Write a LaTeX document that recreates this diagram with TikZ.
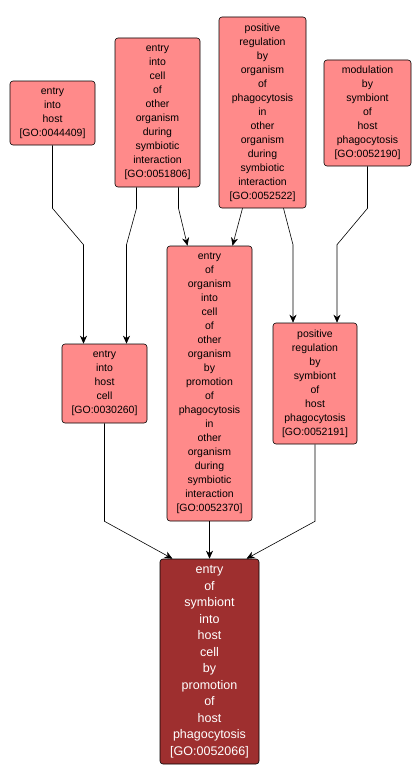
\documentclass[tikz,border=0pt]{standalone}
\usepackage{fontspec}
\setmainfont{Liberation Sans}
\usepackage{tikz}
\usetikzlibrary{arrows.meta}
\definecolor{goPink}{HTML}{FF8A8A}
\definecolor{goDark}{HTML}{9E2F2F}
\tikzset{
	goterm/.style = {align=center, inner sep=0pt, text centered, rounded corners=3pt,
		font=\fontsize{10.5}{14}\selectfont},
	go_n/.style = {goterm, rectangle, black, draw=black, fill=goPink, line width=0.6pt},% ancestor term
	go_q/.style = {goterm, rectangle, white, draw=black, fill=goDark, line width=0.6pt,
		font=\fontsize{12.5}{16.5}\selectfont},% queried term
	go_e/.style = {line width=0.6pt, black}% is_a edge
}

\begin{document}
\begin{tikzpicture}[->,>={Stealth[length=8pt,width=7pt,inset=2.5pt]}, x=1pt, y=-1pt]
	\useasboundingbox (0,0) rectangle (420,784);
	% top row
	\node [go_n, minimum width=85pt, minimum height=64pt] (a) at (52.5,113)
		{entry\\into\\host\\{}[GO:0044409]};
	\node [go_n, minimum width=85pt, minimum height=149pt] (b) at (157.5,112.5)
		{entry\\into\\cell\\of\\other\\organism\\during\\symbiotic\\interaction\\{}[GO:0051806]};
	\node [go_n, minimum width=87pt, minimum height=191pt] (c) at (262.5,112.5)
		{positive\\regulation\\by\\organism\\of\\phagocytosis\\in\\other\\organism\\during\\symbiotic\\interaction\\{}[GO:0052522]};
	\node [go_n, minimum width=87pt, minimum height=106pt] (d) at (367.5,113)
		{modulation\\by\\symbiont\\of\\host\\phagocytosis\\{}[GO:0052190]};
	% middle row
	\node [go_n, minimum width=85pt, minimum height=79pt] (e) at (104.5,383.5)
		{entry\\into\\host\\cell\\{}[GO:0030260]};
	\node [go_n, minimum width=85pt, minimum height=275pt] (f) at (209.5,383.5)
		{entry\\of\\organism\\into\\cell\\of\\other\\organism\\by\\promotion\\of\\phagocytosis\\in\\other\\organism\\during\\symbiotic\\interaction\\{}[GO:0052370]};
	\node [go_n, minimum width=84pt, minimum height=121pt] (g) at (315,383.5)
		{positive\\regulation\\by\\symbiont\\of\\host\\phagocytosis\\{}[GO:0052191]};
	% query term
	\node [go_q, minimum width=99pt, minimum height=205pt] (h) at (209.5,661.5)
		{entry\\of\\symbiont\\into\\host\\cell\\by\\promotion\\of\\host\\phagocytosis\\{}[GO:0052066]};

	\draw [go_e] (a.south) -- ++(0,63) -- ([xshift=-21pt,yshift=99pt]e.north) -- ([xshift=-21pt]e.north);
	\draw [go_e] ([xshift=-21pt]b.south) -- ++(0,21) -- ([xshift=22pt,yshift=99pt]e.north) -- ([xshift=22pt]e.north);
	\draw [go_e] ([xshift=21pt]b.south) -- ++(0,21) -- ([xshift=-22pt]f.north);
	\draw [go_e] ([xshift=-20pt]c.south) -- ([xshift=23pt]f.north);
	\draw [go_e] ([xshift=21pt]c.south) -- ([xshift=-22pt,yshift=78pt]g.north) -- ([xshift=-22pt]g.north);
	\draw [go_e] (d.south) -- ++(0,42) -- ([xshift=22pt,yshift=78pt]g.north) -- ([xshift=22pt]g.north);
	\draw [go_e] (e.south) -- ++(0,98) -- ([xshift=-37pt]h.north);
	\draw [go_e] (f) -- (h);
	\draw [go_e] (g.south) -- ++(0,77) -- ([xshift=37pt]h.north);
\end{tikzpicture}
\end{document}
